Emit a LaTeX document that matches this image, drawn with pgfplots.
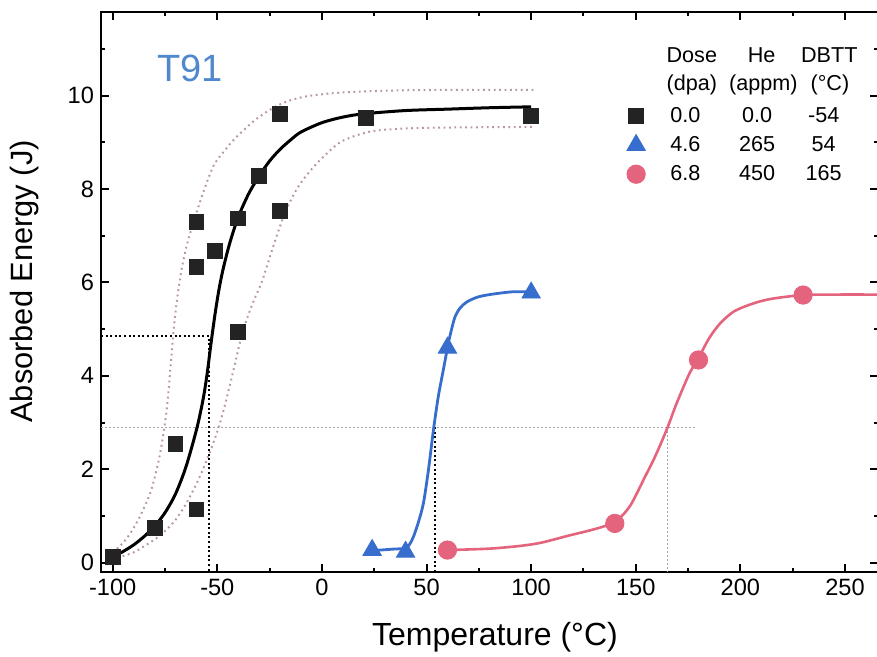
\documentclass[border=0pt]{standalone}
\usepackage{pgfplots}
\pgfplotsset{compat=1.18}
\usepackage{fontspec}
\setmainfont{Liberation Sans}
\definecolor{sqc}{RGB}{35,35,35}
\definecolor{bluec}{RGB}{55,110,205}
\definecolor{redc}{RGB}{228,100,125}
\definecolor{bandc}{RGB}{185,150,165}
\definecolor{gridg}{RGB}{165,165,165}
\definecolor{t91c}{RGB}{80,135,205}
\begin{document}
\begin{tikzpicture}
\begin{axis}[
 at={(50.5pt,-286pt)}, anchor=south west,
 scale only axis, width=388.5pt, height=280pt,
 xmin=-105.6, xmax=265.8, ymin=-0.2, ymax=11.79,
 xtick={-100,-50,...,250}, ytick={0,2,...,10},
 minor xtick={-75,-25,...,275}, minor ytick={1,3,...,11},
 tick align=inside, xtick pos=both, ytick pos=both,
 xticklabel pos=bottom, yticklabel pos=left,
 major tick length=4.2pt, minor tick length=2.2pt,
 tick style={black, line width=1pt},
 axis line style={line width=1pt},
 ticklabel style={font=\fontsize{11.8}{14}\selectfont},
 /pgf/number format/assume math mode=true,
 xlabel={Temperature (°C)}, ylabel={Absorbed Energy (J)},
 xlabel style={font=\fontsize{16}{19}\selectfont, at={(axis description cs:0.507,-0.116)}, anchor=center},
 ylabel style={font=\fontsize{15.4}{18}\selectfont, at={(axis description cs:-0.098,0.519)}, anchor=center},
 legend style={at={(axis cs:145.6,8.94)}, anchor=west, draw=none, fill=none,
   font=\fontsize{10.8}{13}\selectfont, row sep=1.5pt, inner sep=0pt},
 legend cell align=left,
 legend image code/.code={\draw[mark repeat=2,mark phase=2,#1] plot coordinates {(0pt,0pt)(3.5pt,0pt)(7pt,0pt)};},
]
% confidence bands
\addplot[bandc, line width=1pt, dash pattern=on 0.9pt off 1.8pt, smooth, forget plot] coordinates {
(-100,0.22)(-96,0.38)(-92,0.6)(-88,0.9)(-85,1.18)(-82,1.5)(-79.5,1.9)(-77.5,2.3)(-75.8,2.75)(-74.2,3.27)(-73,3.85)(-71.8,4.5)(-70.5,5.15)(-69,5.72)(-67,6.3)(-65,6.72)(-63,7.05)(-58,7.76)(-52,8.48)(-46,8.85)(-42,9.06)(-36,9.32)(-31,9.51)(-24,9.72)(-17,9.87)(-8,9.98)(5,10.05)(20,10.09)(50,10.12)(102,10.12)};
\addplot[bandc, line width=1pt, dash pattern=on 0.9pt off 1.8pt, smooth, forget plot] coordinates {
(-100,0.05)(-96.5,0.12)(-90,0.22)(-85.4,0.34)(-78,0.56)(-71,0.86)(-66,1.18)(-61.5,1.55)(-58,1.88)(-55,2.2)(-52,2.55)(-49,2.95)(-46.5,3.35)(-44,3.8)(-41.5,4.27)(-39,4.75)(-36,5.2)(-32.5,5.62)(-29,5.98)(-26.4,6.33)(-21.6,7.0)(-16.8,7.58)(-11.3,8.05)(-5,8.42)(0.7,8.69)(8.7,9.0)(18,9.17)(27.8,9.26)(50,9.31)(102,9.33)};
% reference lines
\addplot[gridg, line width=0.6pt, dash pattern=on 0.8pt off 1.2pt, forget plot] coordinates {(-105.6,2.9)(179,2.9)};
\addplot[gridg, line width=0.6pt, dash pattern=on 0.8pt off 1.2pt, forget plot] coordinates {(165,2.9)(165,-0.2)};
\addplot[black, line width=1.1pt, dash pattern=on 1pt off 1.3pt, forget plot] coordinates {(-105.6,4.85)(-54,4.85)(-54,-0.2)};
\addplot[black, line width=1.1pt, dash pattern=on 1pt off 1.3pt, forget plot] coordinates {(54,2.9)(54,-0.2)};
% fits
\addplot[black, line width=1.5pt, smooth, forget plot] coordinates {
(-100,0.12)(-95,0.24)(-90,0.38)(-85,0.56)(-80,0.78)(-75,1.07)(-70,1.47)(-65,2.05)(-60,2.84)(-57,3.45)(-55,4.0)(-53,4.7)(-51,5.35)(-49,5.9)(-47,6.33)(-44,6.85)(-40,7.4)(-35,7.9)(-30,8.28)(-25,8.6)(-20,8.85)(-15,9.05)(-10,9.22)(0,9.42)(10,9.54)(20,9.61)(40,9.68)(60,9.71)(80,9.74)(100,9.76)};
\addplot[bluec, line width=1.4pt, smooth, forget plot] coordinates {
(24,0.26)(28,0.27)(34,0.29)(40,0.31)(42,0.4)(43.7,0.55)(46,0.85)(48.5,1.27)(50.9,1.98)(53.3,2.84)(55.6,3.55)(58,4.12)(60.4,4.69)(62,5.0)(63.6,5.26)(66,5.45)(69.2,5.58)(74,5.68)(78.8,5.73)(85,5.77)(91.5,5.8)(100,5.8)};
\addplot[redc, line width=1.3pt, smooth, forget plot] coordinates {
(60,0.27)(80,0.3)(95,0.36)(105,0.43)(118,0.58)(128,0.69)(135,0.78)(140,0.88)(144,1.03)(147.5,1.23)(150.5,1.48)(154,1.8)(158.4,2.19)(162,2.55)(165.6,2.94)(169,3.35)(172.8,3.76)(176,4.08)(180,4.38)(185,4.8)(190.3,5.12)(197,5.38)(206.2,5.55)(215,5.65)(230,5.73)(245,5.74)(266,5.74)};
% data
\addplot[only marks, mark=square*, mark size=3.7pt, color=sqc] coordinates {
(-100,0.12)(-80,0.75)(-70,2.55)(-60,1.14)(-60,6.33)(-60,7.3)(-51,6.68)(-40,4.94)(-40,7.37)(-30,8.28)(-20,7.53)(-20,9.6)(21,9.52)(100,9.56)};
\addlegendentry{\makebox[36pt][c]{0.0}\makebox[35.7pt][c]{0.0}\makebox[31pt][c]{-54}}
\addplot[only marks, mark=triangle*, mark size=5.3pt, color=bluec] coordinates {
(24,0.27)(40,0.23)(60,4.6)(100,5.78)};
\addlegendentry{\makebox[36pt][c]{4.6}\makebox[35.7pt][c]{265}\makebox[31pt][c]{54}}
\addplot[only marks, mark=*, mark size=4.6pt, color=redc] coordinates {
(60,0.27)(140,0.84)(180,4.34)(230,5.73)};
\addlegendentry{\makebox[36pt][c]{6.8}\makebox[35.7pt][c]{450}\makebox[31pt][c]{165}}
% texts
\node[font=\fontsize{19}{21}\selectfont, text=t91c] at (axis cs:-63,10.58) {T91};
\node[font=\fontsize{10.8}{13}\selectfont] at (axis cs:176.8,10.87) {Dose};
\node[font=\fontsize{10.8}{13}\selectfont] at (axis cs:210.2,10.87) {He};
\node[font=\fontsize{10.8}{13}\selectfont] at (axis cs:242.5,10.87) {DBTT};
\node[font=\fontsize{10.8}{13}\selectfont] at (axis cs:176.8,10.22) {(dpa)};
\node[font=\fontsize{10.8}{13}\selectfont] at (axis cs:211,10.22) {(appm)};
\node[font=\fontsize{10.8}{13}\selectfont] at (axis cs:242.8,10.22) {(°C)};
\end{axis}
\pgfresetboundingbox
\path[use as bounding box] (0,0) rectangle (438.5pt,-328.5pt);
\end{tikzpicture}
\end{document}
